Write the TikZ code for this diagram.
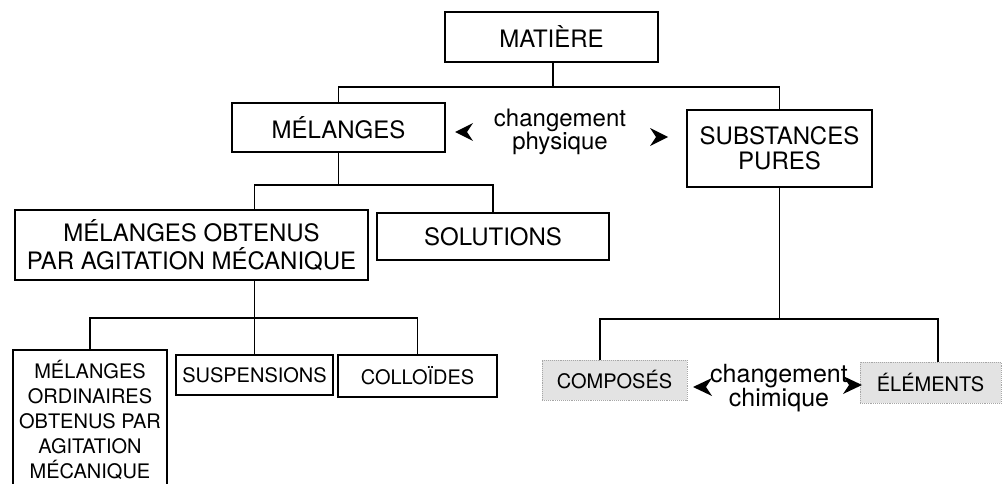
\documentclass[tikz,border=0pt]{standalone}
\usepackage{fontspec}
\setmainfont{TeX Gyre Heros}
\usetikzlibrary{calc}
\tikzset{
  bigbox/.style={draw, line width=1.8pt, inner sep=0pt, align=center, font=\fontsize{24}{25}\selectfont},
  smallbox/.style={draw, line width=1.8pt, inner sep=0pt, align=center, font=\fontsize{20}{25}\selectfont},
  greybox/.style={draw=gray!70, densely dotted, line width=0.9pt, fill=gray!22, inner sep=0pt, align=center, font=\fontsize{20}{24}\selectfont},
  lbl/.style={inner sep=0pt, align=center},
  link/.style={line width=1.8pt},
  arrowhd/.style={fill=black},
}
\begin{document}
\begin{tikzpicture}[x=1pt, y=-1pt]
\useasboundingbox (0,0) rectangle (1003,484);
\clip (0,0) rectangle (1003,484);
\fill[white] (0,0) rectangle (1003,484);

% level 0
\node[bigbox, minimum width=213pt, minimum height=50pt] (mat) at (551.5,37) {MATIÈRE};
% level 1
\node[bigbox, minimum width=213pt, minimum height=49pt] (mel) at (338.5,127.5) {MÉLANGES};
\node[bigbox, minimum width=185pt, minimum height=77pt] (sub) at (779.5,148.5) {SUBSTANCES\\PURES};
\node[lbl, font=\fontsize{24}{20}\selectfont] (phys) at (560,132) {changement\\physique};
% level 2
\node[bigbox, font=\fontsize{24}{28}\selectfont, minimum width=353pt, minimum height=70pt] (meo) at (191.5,245) {MÉLANGES OBTENUS\\PAR AGITATION MÉCANIQUE};
\node[bigbox, minimum width=232pt, minimum height=47pt] (sol) at (493,236.5) {SOLUTIONS};
% level 3
\node[smallbox, minimum width=154pt, minimum height=140pt] (mord) at (90,420) {MÉLANGES\\ORDINAIRES\\OBTENUS PAR\\AGITATION\\MÉCANIQUE};
\node[smallbox, minimum width=157pt, minimum height=40pt] (susp) at (254.5,375) {SUSPENSIONS};
\node[smallbox, minimum width=159pt, minimum height=42pt] (coll) at (417.5,376) {COLLOÏDES};
\node[greybox, minimum width=145pt, minimum height=40pt] (comp) at (614.5,380) {COMPOSÉS};
\node[greybox, minimum width=141pt, minimum height=41pt] (elem) at (930.5,382.5) {ÉLÉMENTS};
\node[lbl, font=\fontsize{25}{23}\selectfont] (chim) at (779,388) {changement\\chimique};

% connectors
\coordinate (b1) at (553,87);
\draw[link] (mat.south -| b1) -- (b1);
\draw[link] (b1) -| (mel.north);
\draw[link] (b1) -| (sub.north);

\coordinate (b2) at (338.5,185);
\draw[link] (mel.south) -- (b2);
\draw[link] (b2) -| (meo.north -| susp.north);
\draw[link] (b2) -| (sol.north);

\coordinate (b3) at (254.5,318);
\draw[link] (meo.south -| susp.north) -- (susp.north);
\draw[link] (b3) -| (mord.north);
\draw[link] (b3) -| (coll.north);

\coordinate (cN) at ($(comp.north west)!0.4!(comp.north east)$);
\coordinate (eN) at ($(elem.north west)!0.55!(elem.north east)$);
\draw[link] (sub.south) -- (sub.south |- cN |- 0,319);
\draw[link] (cN) -- (cN |- 0,319) -- (eN |- 0,319) -- (eN);

% arrowheads
\fill[arrowhd] (455,132) -- (473,123) -- (467,132) -- (473,141) -- cycle;
\fill[arrowhd] (668,137) -- (650,128) -- (656,137) -- (650,146) -- cycle;
\fill[arrowhd] (693,387) -- (712,378) -- (706,387) -- (712,396) -- cycle;
\fill[arrowhd] (862,385) -- (843,376) -- (849,385) -- (843,394) -- cycle;
\end{tikzpicture}
\end{document}
